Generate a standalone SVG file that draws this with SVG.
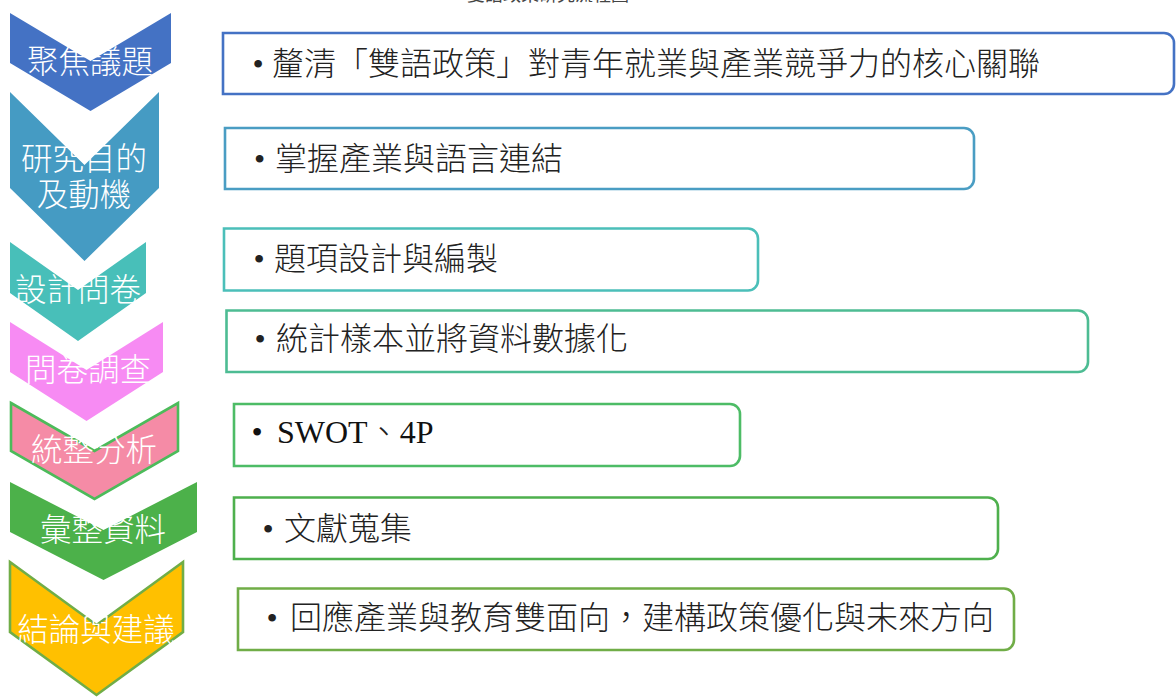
<svg xmlns="http://www.w3.org/2000/svg" width="1176" height="697" viewBox="0 0 1176 697">
<style>
.box{fill:#fff;stroke-width:2.6}
.chev text{fill:#fff;font-family:"Noto Sans CJK TC","Noto Sans CJK SC",sans-serif;font-weight:300;font-size:31.5px;text-anchor:middle}
.lbl{fill:#222;font-family:"Noto Sans CJK TC","Noto Sans CJK SC",sans-serif;font-weight:300;font-size:32px}
.bul{font-family:"Liberation Serif",serif;font-size:32px}
.lat{font-family:"Liberation Serif",serif;font-size:32px}
.title{fill:#444;font-family:"Noto Sans CJK TC",sans-serif;font-size:18px;text-anchor:middle}
</style>
<rect width="1176" height="697" fill="#fff"/>
<text class="title" x="548" y="0.5">雙語政策研究流程圖</text>

<g id="connectors"></g>

<g id="step1" class="chev">
<polygon points="10,13 90.5,61 171,13 171,63 90.5,111 10,63" fill="#4472C4"/>
<text x="90" y="72.5">聚焦議題</text>
</g>
<g id="step2" class="chev">
<polygon points="10,92 84.5,165 159,92 159,188 84.5,261 10,188" fill="#459BC3"/>
<text><tspan x="84" y="169.5">研究目的</tspan><tspan x="84" dy="36">及動機</tspan></text>
</g>
<g id="step3" class="chev">
<polygon points="10,242 78,290 146,242 146,293 78,341 10,293" fill="#48BFB9"/>
<text x="78" y="300.5">設計問卷</text>
</g>
<g id="step4" class="chev">
<polygon points="10,322 86.5,370 163,322 163,372 86.5,421 10,372" fill="#F78BF3"/>
<text x="88" y="380.5">問卷調查</text>
</g>
<g id="step5" class="chev">
<polygon points="11,403 94.5,451 178,403 178,451 94.5,499 11,451" fill="#F58BA6" stroke="#4CBB5A" stroke-width="2.6"/>
<text x="94" y="460.5">統整分析</text>
</g>
<g id="step6" class="chev">
<polygon points="10,482 103.5,530 197,482 197,532 103.5,580 10,532" fill="#4CB14A"/>
<text x="103" y="540.5">彙整資料</text>
</g>
<g id="step7" class="chev">
<polygon points="10,562 96.5,625 183,562 183,632 96.5,695 10,632" fill="#FFC000" stroke="#70AD47" stroke-width="2.6"/>
<text x="96" y="640.5">結論與建議</text>
</g>

<g id="box1">
<path class="box" stroke="#4472C4" d="M223,33 H1164 A10,10 0 0 1 1174,43 V84 A10,10 0 0 1 1164,94 H223 Z"/>
<text class="lbl" y="74.5"><tspan class="bul" x="252.4">•</tspan><tspan x="272">釐清「雙語政策」對青年就業與產業競爭力的核心關聯</tspan></text>
</g>
<g id="box2">
<path class="box" stroke="#4A9DC3" d="M225,128 H964 A10,10 0 0 1 974,138 V179 A10,10 0 0 1 964,189 H225 Z"/>
<text class="lbl" y="169.5"><tspan class="bul" x="254">•</tspan><tspan x="275">掌握產業與語言連結</tspan></text>
</g>
<g id="box3">
<path class="box" stroke="#4BBFB9" d="M224,228.5 H748 A10,10 0 0 1 758,238.5 V280.5 A10,10 0 0 1 748,290.5 H224 Z"/>
<text class="lbl" y="269.5"><tspan class="bul" x="253.4">•</tspan><tspan x="274">題項設計與編製</tspan></text>
</g>
<g id="box4">
<path class="box" stroke="#4DBC93" d="M226.5,310.5 H1078 A10,10 0 0 1 1088,320.5 V362 A10,10 0 0 1 1078,372 H226.5 Z"/>
<text class="lbl" y="350"><tspan class="bul" x="254.4">•</tspan><tspan x="276">統計樣本並將資料數據化</tspan></text>
</g>
<g id="box5">
<path class="box" stroke="#4DBC66" d="M234,404 H730 A10,10 0 0 1 740,414 V456 A10,10 0 0 1 730,466 H234 Z"/>
<text class="lat" y="443" fill="#111"><tspan x="251.4">•</tspan><tspan x="277">SWOT</tspan><tspan class="lbl">、</tspan><tspan>4P</tspan></text>
</g>
<g id="box6">
<path class="box" stroke="#4EB04D" d="M234,497.5 H988 A10,10 0 0 1 998,507.5 V549 A10,10 0 0 1 988,559 H234 Z"/>
<text class="lbl" y="539.5"><tspan class="bul" x="262.4">•</tspan><tspan x="284">文獻蒐集</tspan></text>
</g>
<g id="box7">
<path class="box" stroke="#70AD47" d="M238,588.5 H1004 A10,10 0 0 1 1014,598.5 V640 A10,10 0 0 1 1004,650 H238 Z"/>
<text class="lbl" y="629"><tspan class="bul" x="266.4">•</tspan><tspan x="290">回應產業與教育雙面向，建構政策優化與未來方向</tspan></text>
</g>
</svg>
